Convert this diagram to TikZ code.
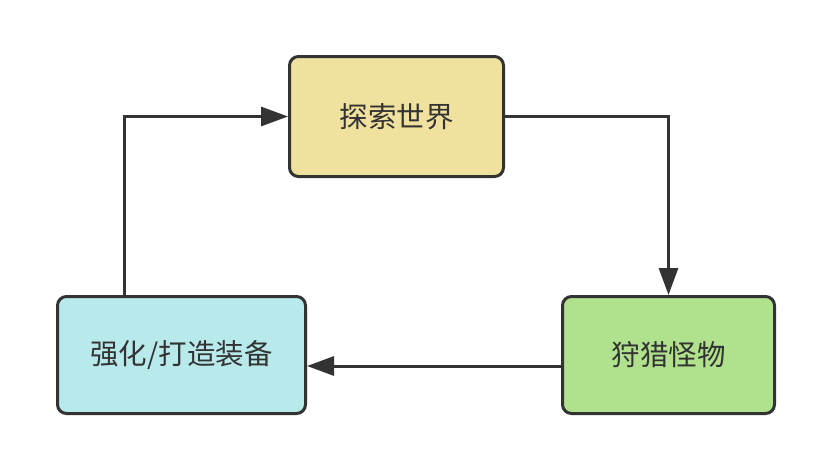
\documentclass[tikz,border=0pt]{standalone}
\usepackage{fontspec}
\usepackage{xcolor}
\usepackage{tikz}
\usetikzlibrary{positioning,arrows.meta}
\newfontfamily\cjk{Noto Sans CJK SC}

\definecolor{boxline}{HTML}{333333}
\definecolor{explore}{HTML}{F0E29E}
\definecolor{hunt}{HTML}{B0E28E}
\definecolor{forge}{HTML}{B8EAEC}

\begin{document}
\begin{tikzpicture}[x=1pt, y=-1pt, line width=3pt, draw=boxline,
    every node/.style={font=\cjk\fontsize{28.5}{32}\selectfont, text=boxline},
    stage/.style={rectangle, rounded corners=9pt, draw=boxline, line width=3pt,
        minimum width=212pt, minimum height=117pt, inner sep=0pt},
    flow/.style={-{Triangle[length=27pt, width=19pt]}, draw=boxline, line width=3pt}]

        \useasboundingbox (0,0) rectangle (831,469);

        % 三个阶段
        \node (explore) [stage, fill=explore, minimum width=214pt, minimum height=120pt] at (396.5,116.5) {探索世界};
        \node (hunt) [stage, fill=hunt] at (668.5,355) {狩猎怪物};
        \node (forge) [stage, fill=forge, minimum width=248pt] at (181.5,355) {强化/打造装备};

        \draw[flow] (explore.east) -| (hunt.north);
        \draw[flow] ([yshift=-11pt]hunt.west) -- ([yshift=-11pt]forge.east);
        \draw[flow] ([xshift=-57.5pt]forge.north) |- (explore.west);

    \end{tikzpicture}
\end{document}
